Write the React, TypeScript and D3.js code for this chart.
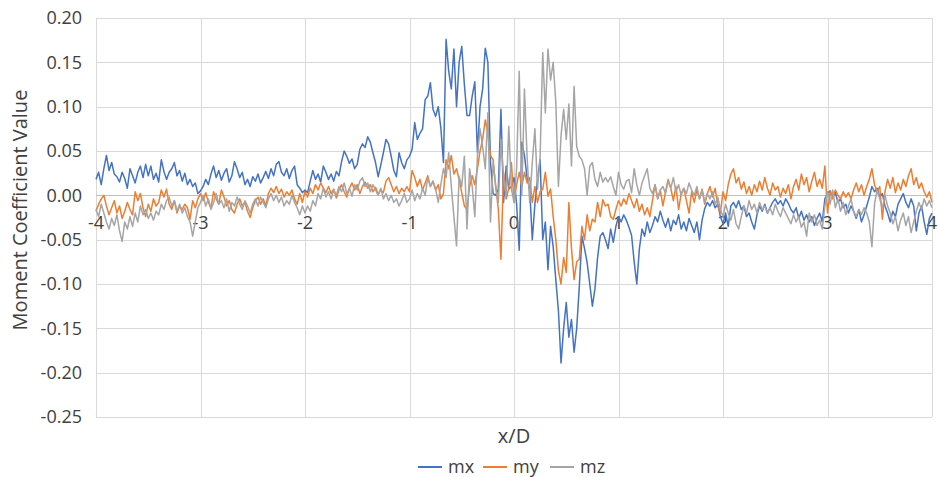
import { useEffect, useRef } from "react";
import * as d3 from "d3";

// x/D sampling: first station and spacing (321 stations from -4 to 4)
const X_START = -4;
const X_STEP = 0.025;

const SERIES_NAMES = ["mx", "my", "mz"];
const SERIES_COLORS = ["#4472C4", "#ED7D31", "#A5A5A5"];

const X_TICKS = [-4, -3, -2, -1, 0, 1, 2, 3, 4];
const Y_TICKS = [-0.25, -0.2, -0.15, -0.1, -0.05, 0, 0.05, 0.1, 0.15, 0.2];

const MX = [
	0.018, 0.026, 0.012, 0.030, 0.045, 0.028, 0.037, 0.024, 0.021, 0.015, 0.026, 0.019, 0.008, 0.030, 0.022, 0.014, 0.026, 0.033, 0.020, 0.035,
	0.022, 0.033, 0.018, 0.025, 0.015, 0.040, 0.027, 0.018, 0.026, 0.030, 0.037, 0.022, 0.028, 0.016, 0.025, 0.012, 0.018, 0.010, 0.014, 0.002,
	0.005, 0.010, 0.018, 0.012, 0.024, 0.033, 0.020, 0.028, 0.017, 0.025, 0.030, 0.015, 0.022, 0.038, 0.030, 0.020, 0.026, 0.012, 0.018, 0.010,
	0.021, 0.016, 0.024, 0.014, 0.020, 0.027, 0.019, 0.030, 0.022, 0.035, 0.038, 0.026, 0.022, 0.030, 0.019, 0.028, 0.033, 0.012, 0.008, 0.003,
	0.006, 0.003, 0.016, 0.028, 0.018, 0.024, 0.015, 0.033, 0.026, 0.018, 0.024, 0.016, 0.027, 0.022, 0.038, 0.050, 0.044, 0.036, 0.041, 0.030,
	0.035, 0.052, 0.058, 0.054, 0.066, 0.060, 0.048, 0.037, 0.021, 0.034, 0.048, 0.063, 0.058, 0.044, 0.028, 0.021, 0.048, 0.037, 0.030, 0.040,
	0.044, 0.052, 0.082, 0.063, 0.070, 0.075, 0.108, 0.112, 0.127, 0.097, 0.089, 0.100, 0.076, 0.037, 0.176, 0.140, 0.120, 0.165, 0.100, 0.150,
	0.168, 0.125, 0.090, 0.090, 0.112, 0.128, 0.048, 0.100, 0.120, 0.166, 0.150, 0.037, 0.002, 0.000, 0.007, 0.097, -0.008, 0.033, 0.007, 0.010,
	0.020, -0.010, -0.062, 0.060, 0.045, 0.020, 0.007, -0.050, -0.010, 0.018, 0.040, -0.050, -0.030, -0.084, -0.035, -0.058, -0.095, -0.130, -0.189, -0.150,
	-0.121, -0.160, -0.140, -0.177, -0.150, -0.103, -0.046, -0.060, -0.076, -0.100, -0.125, -0.105, -0.070, -0.046, -0.042, -0.050, -0.060, -0.038, -0.053, -0.035,
	-0.024, -0.030, -0.022, -0.028, -0.036, -0.045, -0.075, -0.100, -0.060, -0.038, -0.046, -0.030, -0.042, -0.034, -0.024, -0.030, -0.018, -0.028, -0.036, -0.026,
	-0.040, -0.028, -0.033, -0.022, -0.038, -0.030, -0.040, -0.026, -0.034, -0.042, -0.030, -0.050, -0.028, -0.015, -0.008, -0.012, -0.006, -0.014, -0.010, -0.024,
	-0.032, -0.020, -0.035, -0.012, -0.008, -0.014, -0.006, -0.016, -0.012, -0.024, -0.020, -0.030, -0.038, -0.022, -0.012, -0.018, -0.010, -0.020, -0.014, -0.008,
	-0.004, -0.010, -0.006, -0.012, -0.004, -0.009, -0.016, -0.020, -0.014, -0.026, -0.018, -0.028, -0.022, -0.030, -0.024, -0.034, -0.026, -0.020, -0.030, -0.004,
	0.002, 0.005, -0.002, 0.003, -0.008, -0.004, -0.014, -0.010, -0.020, -0.012, -0.018, -0.026, -0.016, -0.030, -0.022, -0.012, -0.002, 0.010, 0.004, 0.008,
	-0.002, 0.002, -0.012, -0.020, -0.030, -0.018, -0.024, -0.010, -0.004, 0.002, -0.008, -0.014, -0.004, -0.012, -0.040, -0.020, -0.012, -0.030, -0.044, -0.026,
	-0.020,
];

const MY = [
	-0.018, -0.010, -0.004, 0.000, -0.012, -0.022, -0.014, -0.006, -0.020, -0.012, -0.026, -0.018, -0.008, -0.016, -0.022, 0.004, -0.006, 0.002, -0.014, -0.024,
	-0.010, -0.018, -0.004, -0.012, -0.008, 0.006, -0.002, 0.007, -0.010, -0.016, -0.006, -0.020, -0.012, -0.016, -0.010, -0.014, -0.027, -0.006, -0.014, -0.004,
	0.002, -0.006, 0.003, -0.008, -0.014, 0.004, -0.004, -0.010, 0.006, -0.002, -0.012, -0.006, -0.016, -0.020, -0.010, -0.004, -0.012, -0.008, -0.018, -0.025,
	-0.014, -0.006, -0.002, -0.010, -0.004, -0.012, 0.002, 0.008, 0.003, 0.010, 0.002, 0.007, -0.002, 0.004, 0.000, 0.006, -0.004, -0.010, 0.002, -0.008,
	0.004, -0.002, 0.008, 0.002, 0.012, 0.006, 0.014, 0.008, 0.003, 0.010, 0.002, 0.007, -0.003, 0.006, 0.012, 0.004, -0.002, 0.008, 0.014, 0.006,
	0.012, 0.002, 0.010, 0.015, 0.008, 0.012, 0.004, 0.009, 0.001, 0.006, 0.003, 0.016, 0.020, 0.012, 0.004, 0.010, 0.002, 0.008, 0.004, 0.010,
	0.004, 0.028, 0.020, 0.010, 0.018, 0.006, 0.014, 0.022, 0.010, 0.016, 0.006, 0.012, -0.004, 0.002, 0.040, 0.030, 0.045, 0.024, 0.030, 0.018,
	0.003, -0.012, -0.016, 0.010, 0.022, 0.012, 0.030, 0.050, 0.063, 0.085, 0.070, 0.045, 0.040, 0.010, -0.016, -0.072, 0.026, -0.004, 0.008, 0.037,
	-0.008, 0.012, 0.026, 0.010, 0.026, 0.014, 0.020, -0.008, 0.010, -0.008, 0.004, 0.007, 0.026, -0.001, 0.007, -0.024, -0.050, -0.085, -0.100, -0.070,
	-0.087, -0.008, -0.060, -0.095, -0.075, -0.072, -0.035, -0.050, -0.022, -0.040, -0.027, -0.030, -0.008, -0.024, -0.005, -0.012, -0.010, -0.024, -0.027, -0.016,
	-0.006, -0.012, -0.004, -0.010, 0.002, -0.006, -0.014, -0.004, -0.018, -0.010, -0.022, -0.014, -0.024, -0.006, 0.012, -0.004, 0.006, -0.012, 0.004, 0.018,
	0.008, -0.006, 0.010, -0.016, 0.002, 0.008, -0.006, -0.020, 0.004, -0.008, 0.006, -0.004, 0.007, -0.010, 0.002, 0.010, -0.002, 0.008, -0.012, -0.020,
	0.004, -0.006, 0.012, 0.024, 0.030, 0.014, 0.020, 0.007, 0.015, 0.002, 0.010, 0.000, 0.012, 0.004, 0.016, 0.006, 0.020, 0.008, 0.000, 0.014,
	0.006, 0.010, -0.002, 0.008, 0.002, 0.012, -0.004, 0.010, 0.018, 0.006, 0.024, 0.012, 0.020, 0.004, 0.016, 0.026, 0.010, 0.018, 0.008, 0.033,
	-0.020, 0.004, -0.004, 0.006, 0.000, -0.004, 0.004, -0.002, 0.003, -0.004, 0.006, 0.014, 0.004, 0.012, 0.000, 0.010, 0.018, 0.030, 0.012, 0.004,
	0.010, -0.027, 0.004, 0.018, 0.008, 0.020, 0.003, 0.014, 0.006, 0.018, 0.010, 0.022, 0.030, 0.012, 0.020, 0.008, 0.014, 0.004, -0.002, 0.004,
	-0.008,
];

const MZ = [
	-0.016, -0.024, -0.010, -0.020, -0.030, -0.038, -0.026, -0.034, -0.022, -0.040, -0.052, -0.030, -0.038, -0.024, -0.035, -0.020, -0.030, -0.012, -0.022, -0.016,
	-0.026, -0.020, -0.028, -0.018, -0.022, -0.010, -0.016, -0.006, -0.002, -0.012, -0.006, -0.018, -0.010, -0.020, -0.014, -0.024, -0.030, -0.046, -0.030, -0.014,
	-0.008, 0.000, -0.012, -0.004, -0.016, -0.008, 0.002, -0.010, -0.006, -0.014, -0.004, -0.018, -0.008, -0.012, -0.002, -0.010, -0.016, -0.006, -0.012, -0.020,
	-0.010, -0.004, -0.012, -0.002, -0.008, -0.014, -0.004, 0.002, -0.006, 0.000, -0.008, -0.002, -0.012, -0.006, -0.010, 0.000, -0.008, -0.014, -0.022, -0.012,
	-0.020, -0.012, -0.018, -0.006, -0.012, 0.002, -0.004, 0.008, -0.002, 0.004, -0.004, 0.006, 0.000, 0.010, 0.004, 0.014, 0.002, 0.008, -0.001, 0.012,
	0.006, 0.016, 0.020, 0.010, 0.014, 0.004, 0.012, 0.006, 0.000, 0.008, -0.004, 0.002, -0.006, 0.000, -0.008, -0.004, -0.012, -0.006, 0.002, -0.008,
	-0.004, 0.006, -0.006, 0.002, -0.004, 0.008, 0.000, 0.020, 0.010, 0.016, 0.007, -0.008, 0.012, 0.030, 0.020, 0.048, 0.010, -0.024, -0.057, 0.021,
	0.010, 0.044, -0.038, 0.030, 0.010, -0.024, 0.044, 0.075, 0.055, 0.030, 0.093, -0.030, 0.037, 0.010, -0.008, 0.063, 0.020, 0.000, 0.078, 0.007,
	-0.008, 0.030, 0.140, 0.000, 0.120, 0.044, -0.008, 0.037, 0.075, 0.007, 0.044, 0.161, 0.093, 0.165, 0.130, 0.150, 0.105, 0.010, 0.067, 0.097,
	0.063, 0.103, 0.033, 0.123, 0.055, 0.044, 0.040, 0.030, 0.000, 0.033, 0.037, 0.018, 0.010, 0.026, 0.015, 0.020, 0.015, 0.021, 0.010, 0.000,
	0.026, 0.012, 0.007, 0.016, 0.018, 0.003, 0.030, 0.012, 0.000, 0.014, 0.022, 0.030, 0.008, 0.002, 0.012, -0.004, 0.006, 0.010, 0.002, 0.016,
	0.008, 0.020, 0.004, 0.012, 0.000, 0.008, 0.002, 0.014, 0.006, 0.000, 0.010, -0.004, 0.006, -0.008, 0.002, -0.004, 0.004, -0.010, -0.002, -0.016,
	-0.024, -0.010, -0.020, -0.028, -0.016, -0.032, -0.038, -0.024, -0.012, -0.020, -0.006, -0.016, -0.010, -0.020, -0.008, -0.016, -0.012, -0.020, -0.014, -0.022,
	-0.010, -0.018, -0.024, -0.014, -0.020, -0.026, -0.032, -0.022, -0.030, -0.024, -0.036, -0.030, -0.046, -0.020, -0.030, -0.022, -0.034, -0.028, -0.038, -0.012,
	0.004, -0.010, 0.006, -0.014, -0.004, -0.018, -0.008, -0.022, -0.012, -0.004, -0.018, -0.024, -0.016, -0.022, -0.014, -0.020, -0.030, -0.058, -0.010, 0.006,
	-0.004, -0.014, 0.000, -0.012, -0.020, -0.032, -0.024, -0.040, -0.028, -0.020, -0.034, -0.024, -0.042, -0.030, -0.018, -0.008, -0.016, -0.004, -0.012, -0.006,
	-0.014,
];

const SERIES = [MX, MY, MZ];

const FONT = "'Open Sans', 'Noto Sans', sans-serif";
const TEXT_COLOR = "#404040";

export default function App() {
	const ref = useRef<SVGSVGElement>(null);

	useEffect(() => {
		const svg = d3.select(ref.current);
		svg.selectAll("*").remove();

		// Plot box (pixels)
		const left = 96, right = 932, top = 18, bottom = 417;

		const x = d3.scaleLinear().domain([-4, 4]).range([left, right]);
		const y = d3.scaleLinear().domain([-0.25, 0.2]).range([bottom, top]);

		svg.append("rect")
			.attr("width", 938)
			.attr("height", 477)
			.attr("fill", "#ffffff");

		// Gridlines
		const grid = svg.append("g").attr("stroke", "#d9d9d9").attr("stroke-width", 1);
		grid.selectAll(".hg")
			.data(Y_TICKS)
			.enter()
			.append("line")
			.attr("x1", left)
			.attr("x2", right)
			.attr("y1", d => Math.round(y(d)) + 0.5)
			.attr("y2", d => Math.round(y(d)) + 0.5);
		grid.selectAll(".vg")
			.data(X_TICKS)
			.enter()
			.append("line")
			.attr("x1", d => Math.round(x(d)) + 0.5)
			.attr("x2", d => Math.round(x(d)) + 0.5)
			.attr("y1", top)
			.attr("y2", bottom);

		// Horizontal axis line at zero
		svg.append("line")
			.attr("x1", left)
			.attr("x2", right)
			.attr("y1", Math.round(y(0)) + 0.5)
			.attr("y2", Math.round(y(0)) + 0.5)
			.attr("stroke", "#bfbfbf")
			.attr("stroke-width", 1);

		// Y tick labels (Excel style hyphen minus)
		const fmt = d3.format(".2f");
		svg.append("g")
			.selectAll("text")
			.data(Y_TICKS)
			.enter()
			.append("text")
			.attr("x", 82)
			.attr("y", d => y(d))
			.attr("dy", "0.35em")
			.attr("text-anchor", "end")
			.attr("font-family", FONT)
			.attr("font-size", "18px")
			.attr("fill", TEXT_COLOR)
			.text(d => fmt(d).replace("\u2212", "-"));

		// X tick labels sit just under the zero line
		svg.append("g")
			.selectAll("text")
			.data(X_TICKS)
			.enter()
			.append("text")
			.attr("x", d => x(d))
			.attr("y", y(0) + 34)
			.attr("text-anchor", "middle")
			.attr("font-family", FONT)
			.attr("font-size", "18px")
			.attr("fill", TEXT_COLOR)
			.text(d => String(d));

		// Series lines
		const line = d3.line<number>()
			.x((_, i) => x(X_START + i * X_STEP))
			.y(d => y(d));

		SERIES.forEach((vals, si) => {
			svg.append("path")
				.datum(vals)
				.attr("d", line)
				.attr("fill", "none")
				.attr("stroke", SERIES_COLORS[si])
				.attr("stroke-width", 1.5)
				.attr("stroke-linejoin", "round");
		});

		// Axis titles
		svg.append("text")
			.attr("x", (left + right) / 2)
			.attr("y", 443)
			.attr("text-anchor", "middle")
			.attr("font-family", FONT)
			.attr("font-size", "20px")
			.attr("fill", TEXT_COLOR)
			.text("x/D");

		svg.append("text")
			.attr("transform", "translate(27, 210) rotate(-90)")
			.attr("text-anchor", "middle")
			.attr("font-family", FONT)
			.attr("font-size", "20px")
			.attr("fill", TEXT_COLOR)
			.text("Moment Coefficient Value");

		// Legend
		const legendX = [418, 483, 550];
		const legend = svg.append("g");
		SERIES_NAMES.forEach((name, i) => {
			legend.append("line")
				.attr("x1", legendX[i])
				.attr("x2", legendX[i] + 24)
				.attr("y1", 467)
				.attr("y2", 467)
				.attr("stroke", SERIES_COLORS[i])
				.attr("stroke-width", 2);
			legend.append("text")
				.attr("x", legendX[i] + 30)
				.attr("y", 467)
				.attr("dy", "0.35em")
				.attr("font-family", FONT)
				.attr("font-size", "18px")
				.attr("fill", TEXT_COLOR)
				.text(name);
		});
	}, []);

	return (
		<div style={{ position: "absolute", left: 0, top: 0 }}>
			<svg ref={ref} width={938} height={477} style={{ display: "block" }}></svg>
		</div>
	);
}
